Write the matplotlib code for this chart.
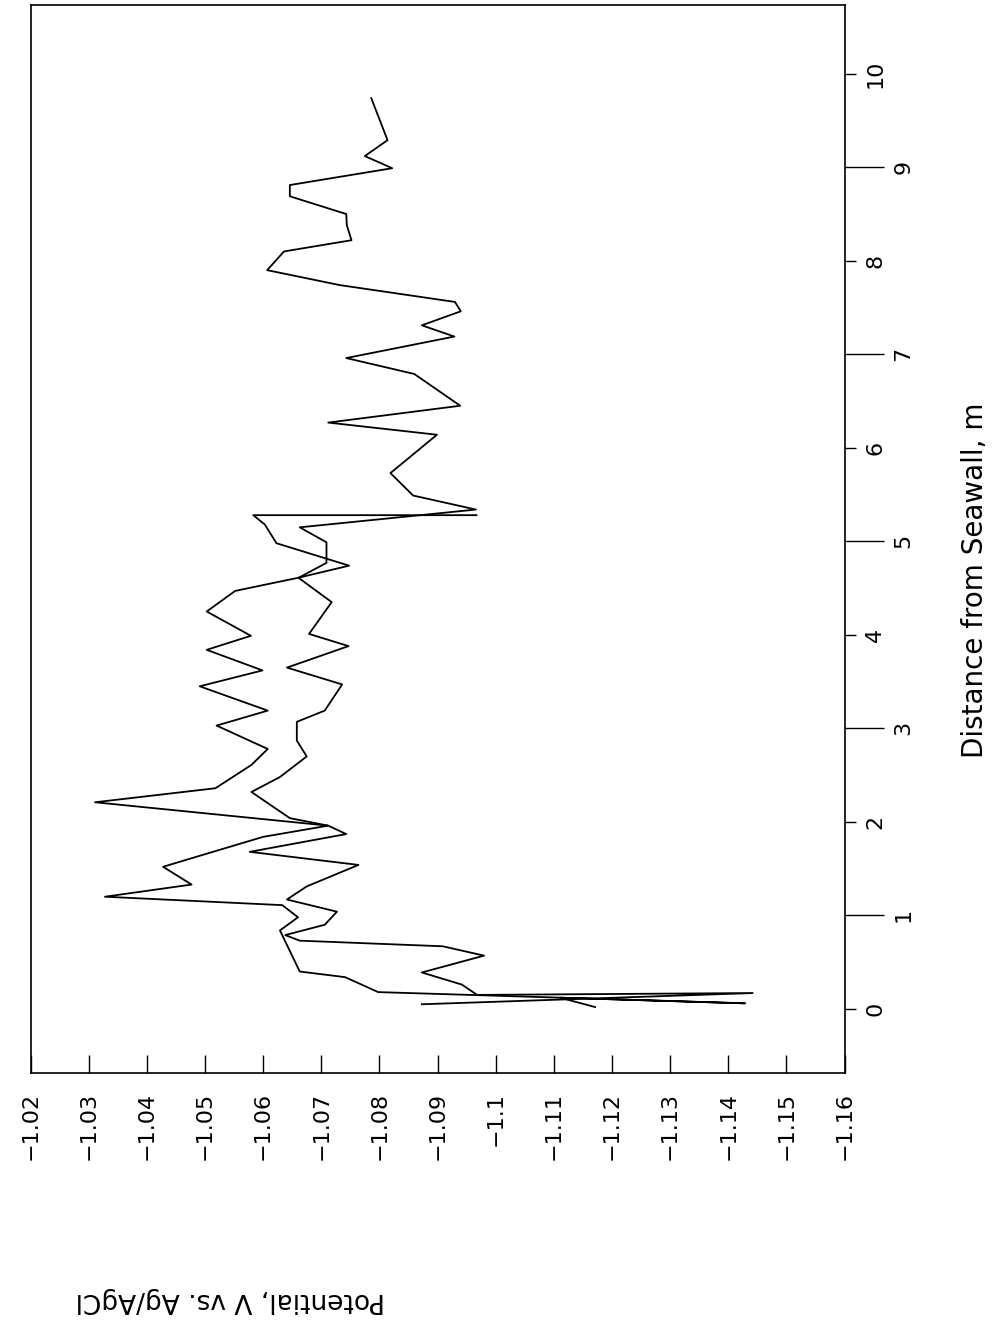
import matplotlib
matplotlib.use("Agg")
import matplotlib.pyplot as plt
from matplotlib.ticker import FixedLocator, FixedFormatter

# ---- data: distance from seawall (m) and potential (V vs Ag/AgCl) ----
# Survey line A (ends near 5.3 m)
dist_a = [5.28, 5.28, 5.18, 4.98, 4.74, 4.61, 4.47, 4.25, 3.99, 3.84, 3.62, 3.45,
          3.19, 3.03, 2.78, 2.61, 2.36, 2.21, 1.96, 1.84, 1.66, 1.52, 1.33, 1.20,
          1.11, 0.98, 0.84, 0.40, 0.34, 0.18, 0.06, 0.12, 0.02]
pot_a = [-1.0967, -1.0583, -1.0603, -1.0623, -1.0748, -1.0660, -1.0552, -1.0503,
         -1.0579, -1.0503, -1.0599, -1.0491, -1.0608, -1.0520, -1.0608, -1.0580,
         -1.0518, -1.0311, -1.0712, -1.0600, -1.0503, -1.0428, -1.0477, -1.0328,
         -1.0633, -1.0660, -1.0629, -1.0663, -1.0741, -1.0798, -1.1429, -1.1111,
         -1.1171]
# Survey line B (extends to 9.7 m)
dist_b = [9.74, 9.29, 9.12, 8.99, 8.81, 8.69, 8.50, 8.38, 8.22, 8.10, 7.90, 7.74,
          7.56, 7.46, 7.31, 7.19, 6.96, 6.79, 6.45, 6.27, 6.14, 5.73, 5.49, 5.34,
          5.15, 4.99, 4.77, 4.61, 4.35, 4.01, 3.88, 3.65, 3.47, 3.19, 3.07, 2.87,
          2.70, 2.48, 2.32, 2.04, 1.96, 1.87, 1.68, 1.54, 1.31, 1.17, 1.04, 0.90,
          0.79, 0.73, 0.67, 0.57, 0.39, 0.26, 0.15, 0.17, 0.05]
pot_b = [-1.0786, -1.0814, -1.0775, -1.0822, -1.0646, -1.0646, -1.0743, -1.0744,
         -1.0752, -1.0636, -1.0607, -1.0732, -1.0930, -1.0940, -1.0873, -1.0929,
         -1.0743, -1.0860, -1.0939, -1.0712, -1.0899, -1.0819, -1.0858, -1.0966,
         -1.0663, -1.0709, -1.0709, -1.0661, -1.0718, -1.0679, -1.0747, -1.0641,
         -1.0736, -1.0706, -1.0658, -1.0658, -1.0675, -1.0629, -1.0580, -1.0646,
         -1.0712, -1.0743, -1.0577, -1.0764, -1.0675, -1.0641, -1.0727, -1.0706,
         -1.0638, -1.0663, -1.0909, -1.0980, -1.0873, -1.0942, -1.0968, -1.1442,
         -1.0873]

pot_ticks = [-1.02, -1.03, -1.04, -1.05, -1.06, -1.07, -1.08, -1.09, -1.10, -1.11,
             -1.12, -1.13, -1.14, -1.15, -1.16]
pot_labels = ["\u22121.02", "\u22121.03", "\u22121.04", "\u22121.05", "\u22121.06",
              "\u22121.07", "\u22121.08", "\u22121.09", "\u22121.1", "\u22121.11",
              "\u22121.12", "\u22121.13", "\u22121.14", "\u22121.15", "\u22121.16"]
dist_odd = [1, 3, 5, 7, 9]
dist_even = [0, 2, 4, 6, 8, 10]

plt.rcParams['font.family'] = ['DejaVu Sans']
fig = plt.figure(figsize=(9.97, 13.41), dpi=100)
ax = fig.add_axes([0.0306, 0.2002, 0.8165, 0.7964])

ax.plot(pot_a, dist_a, color='black', lw=1.3)
ax.plot(pot_b, dist_b, color='black', lw=1.3)

ax.set_xlim(-1.02, -1.16)
ax.set_ylim(-0.68, 10.74)

# bottom axis: potential, ticks inward, labels rotated
ax.xaxis.set_major_locator(FixedLocator(pot_ticks))
ax.xaxis.set_major_formatter(FixedFormatter(pot_labels))
ax.tick_params(axis='x', direction='in', length=13, width=1.0, pad=14,
               labelsize=16, labelrotation=90)

# right axis: distance
ax.yaxis.tick_right()
ax.yaxis.set_major_locator(FixedLocator(dist_odd))
ax.yaxis.set_major_formatter(FixedFormatter([str(v) for v in dist_odd]))
ax.yaxis.set_minor_locator(FixedLocator(dist_even))
ax.yaxis.set_minor_formatter(FixedFormatter([str(v) for v in dist_even]))
ax.tick_params(axis='y', which='major', direction='out', length=28, width=1.0,
               pad=7, labelsize=16, labelrotation=90, left=False, right=True)
ax.tick_params(axis='y', which='minor', direction='out', length=8, width=1.0,
               pad=7, labelsize=16, labelrotation=90, left=False, right=True)
for lab in ax.yaxis.get_majorticklabels() + ax.yaxis.get_minorticklabels():
    lab.set_va('center')

for s in ax.spines.values():
    s.set_linewidth(1.2)

fig.text(975/997, 1 - 580/1341, "Distance from Seawall, m", rotation=90,
         ha='center', va='center', fontsize=20)
fig.text(230/997, 1 - 1300/1341, "Potential, V vs. Ag/AgCl", rotation=180,
         ha='center', va='center', fontsize=19)

fig.savefig("out.png", dpi=100)
